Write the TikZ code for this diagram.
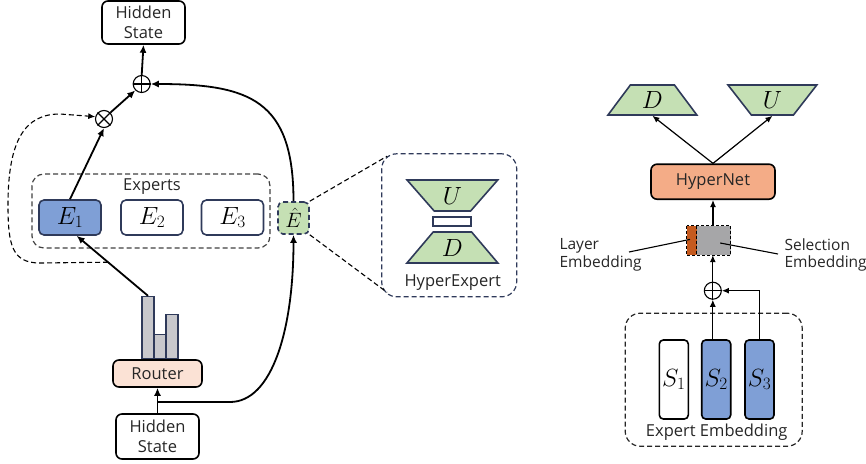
\documentclass[tikz,border=0pt]{standalone}
\usepackage[no-math]{fontspec}
\setmainfont{Open Sans}
\usetikzlibrary{arrows.meta,shapes.geometric,positioning}
\definecolor{navy}{RGB}{47,58,90}
\definecolor{eblue}{RGB}{127,159,214}
\definecolor{egreen}{RGB}{197,224,180}
\definecolor{rpeach}{RGB}{251,226,213}
\definecolor{hsalmon}{RGB}{244,172,135}
\definecolor{bgray}{RGB}{200,200,204}
\definecolor{egray}{RGB}{166,166,168}
\definecolor{eorange}{RGB}{197,90,30}
\definecolor{dgray}{RGB}{64,64,64}
\tikzset{
  txt/.style={font=\fontsize{16.5}{20}\selectfont, text=black!85},
  mth/.style={font=\fontsize{23.5}{25}\selectfont},
  box/.style={txt, draw, line width=1.6pt, rounded corners=6pt, align=center, inner sep=0pt},
  ebox/.style={mth, draw=navy, line width=1.6pt, rounded corners=5pt, minimum width=62pt, minimum height=35pt, inner sep=0pt},
  sbox/.style={mth, draw=black, line width=1.6pt, rounded corners=4pt, minimum width=29pt, minimum height=79pt, inner sep=0pt},
  bar/.style={draw=navy, fill=bgray, line width=1.2pt, minimum width=12pt, inner sep=0pt, anchor=south},
  dashbox/.style={draw=dgray, line width=1.2pt, dash pattern=on 5pt off 3pt, rounded corners=12pt, inner sep=0pt},
  trap/.style={mth, trapezium, trapezium stretches=true, draw=navy, fill=egreen, line width=1.6pt, inner sep=0pt},
  op/.style={circle, draw, line width=1.1pt, minimum size=17pt, inner sep=0pt},
  arr/.style={line width=1.8pt, -{Latex[length=8pt,width=7pt]}},
  tarr/.style={line width=1.2pt, -{Latex[length=7pt,width=6pt]}},
  dsh/.style={line width=1.1pt, dash pattern=on 5pt off 3pt},
}
\begin{document}
\begin{tikzpicture}[x=1pt, y=-1pt]
\useasboundingbox (0,0) rectangle (866,463);
% left: moe layer
\node[box, minimum width=83pt, minimum height=43pt] (hstop) at (143.5,22.5) {Hidden\\State};
\node[op] (plus) at (141.7,84) {};
\draw[line width=1.1pt] (plus.north)--(plus.south) (plus.west)--(plus.east);
\node[op] (times) at (104,119) {};
\draw[line width=1.1pt] (times.45)--(times.225) (times.135)--(times.-45);
\node[dashbox, minimum width=238pt, minimum height=74pt] (experts) at (151,211) {};
\node[txt] (explab) at (152,187) {Experts};
\node[ebox, fill=eblue] (e1) at (70,217.5) {$E_1$};
\node[ebox, fill=white] (e2) at (152,217.5) {$E_2$};
\node[ebox, fill=white] (e3) at (232.5,217.5) {$E_3$};
\node[ebox, fill=egreen, font=\fontsize{20}{22}\selectfont, dash pattern=on 5pt off 3pt, minimum width=31pt, minimum height=32pt] (ehat) at (293.5,218) {$\hat{E}$};
\node[bar, minimum height=62pt] (bar1) at (148,359) {};
\node[bar, minimum height=24pt] (bar2) at (160,359) {};
\node[bar, minimum height=44pt] (bar3) at (172,359) {};
\node[box, fill=rpeach, minimum width=89pt, minimum height=27pt] (router) at (157.5,373.5) {Router};
\node[box, minimum width=83pt, minimum height=45pt] (hsbot) at (157.5,436.5) {Hidden\\State};
\coordinate (split) at (157.5,402);
\draw[arr] (hsbot) -- (router);
\draw[arr] (split) -- (230,402) .. controls (272,402) and (293.5,330) .. (ehat.south);
\draw[arr] (bar1.north) -- (e1.290) coordinate[pos=0.56] (dstart);
\draw[arr] (e1.north) -- (times.south);
\draw[arr] (times.45) -- (plus.225);
\draw[arr] (plus.north) -- (hstop.south);
\draw[arr] (ehat.north) .. controls (293.5,100) and (250,84) .. (plus.east);
\draw[dsh, -{Latex[length=7pt,width=6pt]}] (dstart) -- (40,263) .. controls (12,263) and (8,245) .. (8,205)
  .. controls (8,140) and (25,114) .. (60,114) -- (times.165);
% hyper expert
\node[dashbox, draw=navy, rounded corners=15pt, minimum width=135pt, minimum height=143pt] (hebox) at (449.2,225.3) {};
\node[trap, shape border rotate=180, trapezium angle=50, minimum width=91pt, minimum height=31pt] (hu) at (452.4,195.5) {$U$};
\node[draw=navy, line width=1.6pt, fill=white, minimum width=38pt, minimum height=9pt, inner sep=0pt] (hmid) at (452.2,221.2) {};
\node[trap, trapezium angle=50, minimum width=91pt, minimum height=31pt] (hd) at (452.4,247.5) {$D$};
\node[txt] (helab) at (452.7,282.7) {HyperExpert};
\draw[dsh] (ehat.north east) -- ([xshift=6pt,yshift=-3pt]hebox.north west);
\draw[dsh] (ehat.south east) -- ([xshift=6pt,yshift=5pt]hebox.south west);
% right: hypernet
\node[trap, trapezium angle=58, minimum width=89pt, minimum height=30pt] (td) at (652.4,100) {$D$};
\node[trap, shape border rotate=180, trapezium angle=58, minimum width=89pt, minimum height=30pt] (tu) at (772.4,100) {$U$};
\node[box, fill=hsalmon, minimum width=124pt, minimum height=35pt] (hnet) at (713,181.7) {HyperNet};
\draw[tarr] (hnet.north) -- (td.south);
\draw[tarr] (hnet.north) -- (td.south -| tu);
\node[fill=egray, minimum width=44pt, minimum height=29pt, inner sep=0pt] (emb) at (708.7,240.4) {};
\fill[eorange] (emb.north west) rectangle ([xshift=10pt]emb.south west);
\draw[line width=1pt, dash pattern=on 3pt off 2pt] (emb.north west) rectangle (emb.south east)
  ([xshift=10pt]emb.north west) -- ([xshift=10pt]emb.south west);
\node[txt, font=\fontsize{15.5}{17.5}\selectfont, align=left, anchor=west] (laylab) at (556,255) {Layer\\Embedding};
\node[txt, font=\fontsize{15.5}{17.5}\selectfont, align=left, anchor=west] (sellab) at (781,255) {Selection\\Embedding};
\coordinate (laypt) at (629,252);
\coordinate (selpt) at (778,254);
\draw[line width=1.1pt] (laypt) -- ([xshift=3.5pt,yshift=1pt]emb.west);
\draw[line width=1.1pt] ([xshift=-10.7pt,yshift=-2.6pt]emb.east) -- (selpt);
\draw[tarr] (emb.north -| hnet) -- (hnet.south);
\node[op] (psum) at (712.8,290.7) {};
\draw[line width=1.1pt] (psum.north)--(psum.south) (psum.west)--(psum.east);
\draw[tarr] (psum.north) -- (psum.north |- emb.south);
\node[dashbox, draw=black!85, rounded corners=15pt, minimum width=177pt, minimum height=133pt] (eebox) at (713.7,379.7) {};
\node[sbox, fill=white] (s1) at (673.8,379.5) {$S_1$};
\node[sbox, fill=eblue] (s2) at (716.2,379.5) {$S_2$};
\node[sbox, fill=eblue] (s3) at (759.5,379.5) {$S_3$};
\node[txt] (eelab) at (716.7,432.3) {Expert Embedding};
\draw[tarr] (s2.north -| psum) -- (psum.south);
\draw[tarr] (s3.north) |- (psum.east);
\end{tikzpicture}
\end{document}
